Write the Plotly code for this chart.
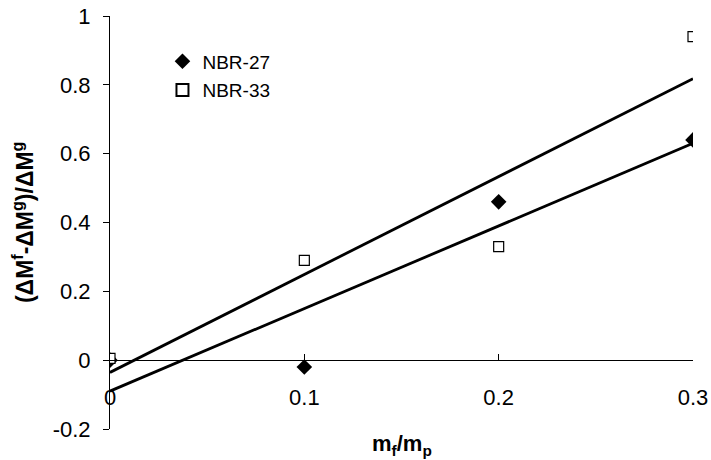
import numpy as np
import plotly.graph_objects as go

x_vals = [0.0, 0.1, 0.2, 0.3]
nbr27 = [0.0, -0.02, 0.46, 0.64]
nbr33 = [0.005, 0.29, 0.33, 0.94]
series_names = ["NBR-27", "NBR-33"]
x_ticks = [0, 0.1, 0.2, 0.3]
x_ticktext = ["0", "0.1", "0.2", "0.3"]
y_ticks = [-0.2, 0, 0.2, 0.4, 0.6, 0.8, 1.0]
y_ticktext = ["-0.2", "0", "0.2", "0.4", "0.6", "0.8", "1"]

FONT = "Liberation Sans, Arial, sans-serif"

fig = go.Figure()

# trend lines (linear least squares fit)
xl = np.array([min(x_vals), max(x_vals)])
for ys in (nbr27, nbr33):
    k, b = np.polyfit(x_vals, ys, 1)
    fig.add_trace(go.Scatter(x=xl, y=k * xl + b, mode="lines",
                             line=dict(color="black", width=2.8),
                             showlegend=False, hoverinfo="skip"))

fig.add_trace(go.Scatter(x=x_vals, y=nbr27, mode="markers", name=series_names[0],
                         legendgroup="a",
                         marker=dict(symbol="diamond", size=12, color="black",
                                     line=dict(width=0))))
fig.add_trace(go.Scatter(x=x_vals, y=nbr33, mode="markers", name=series_names[1],
                         legendgroup="b",
                         marker=dict(symbol="square", size=10, color="white",
                                     line=dict(color="black", width=1.2))))

fig.update_layout(
    width=711, height=460,
    margin=dict(l=110, r=18, t=16, b=31),
    paper_bgcolor="white", plot_bgcolor="white",
    font=dict(family=FONT, size=22, color="black"),
    showlegend=True,
    legend=dict(x=0.09, y=0.936, xanchor="left", yanchor="top",
                bgcolor="rgba(0,0,0,0)", font=dict(size=19),
                itemsizing="constant", traceorder="grouped", tracegroupgap=1),
)

fig.update_xaxes(
    range=[0, 0.3], tickvals=x_ticks, ticktext=x_ticktext,
    showgrid=False, zeroline=False, showline=True, linecolor="black", linewidth=1,
    ticks="inside", ticklen=6, tickcolor="black",
    anchor="free", position=0.2 / 1.2, automargin=False,
    ticklabelstandoff=17,
)
fig.update_yaxes(
    range=[-0.2, 1.0], tickvals=y_ticks, ticktext=y_ticktext,
    showgrid=False, zeroline=False, showline=True, linecolor="black", linewidth=1,
    ticks="outside", ticklen=6, tickcolor="black", automargin=False,
    ticklabelstandoff=8,
)

fig.add_annotation(text="<b>m<sub>f</sub>/m<sub>p</sub></b>", xref="paper", yref="paper",
                   x=0.5, y=-0.039, xanchor="center", yanchor="middle",
                   showarrow=False, font=dict(size=22))
fig.add_annotation(text="<b>(ΔM<sup>f</sup>-ΔM<sup>g</sup>)/ΔM<sup>g</sup></b>",
                   xref="paper", yref="paper", x=-0.15, y=0.5,
                   xanchor="center", yanchor="middle", textangle=-90,
                   showarrow=False, font=dict(size=23))

fig.write_html("out.html")
